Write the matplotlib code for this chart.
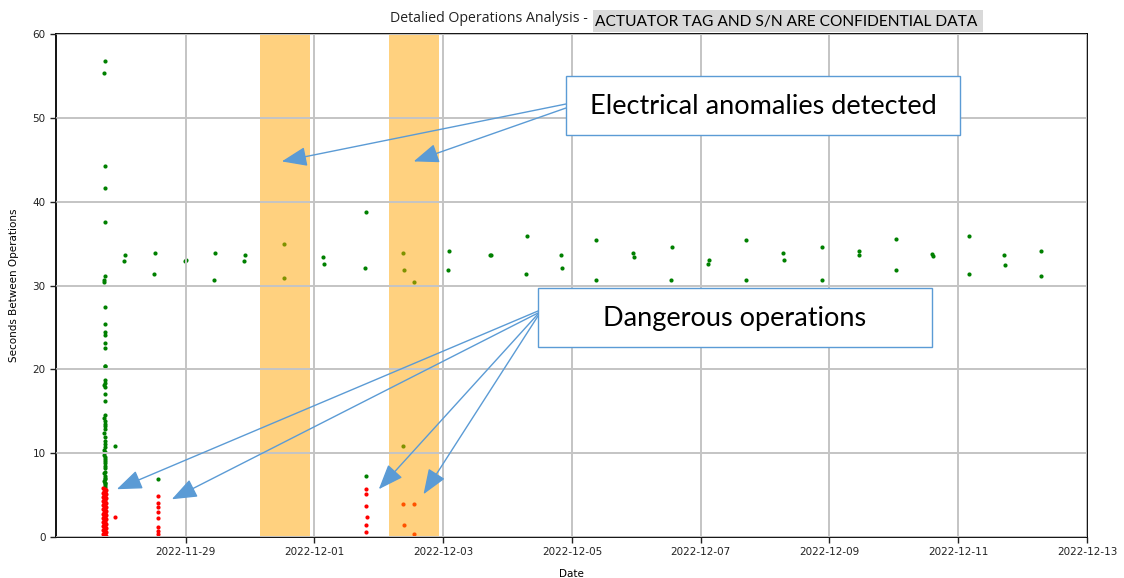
import matplotlib
matplotlib.use("Agg")
from matplotlib import pyplot as plt
from matplotlib.patches import Rectangle
import matplotlib.dates as mdates
import pandas as pd

# green = normal operations, red = dangerous (too short between operations)
green_times = [
    "2022-11-27 17:45", "2022-11-27 17:35", "2022-11-27 17:45", "2022-11-27 17:45",
    "2022-11-27 18:00", "2022-11-27 17:50", "2022-11-27 17:30", "2022-11-27 17:40",
    "2022-11-27 17:45", "2022-11-27 17:50", "2022-11-27 18:05", "2022-11-27 17:45",
    "2022-11-27 17:45", "2022-11-27 18:00", "2022-11-27 17:45", "2022-11-27 18:00",
    "2022-11-27 17:45", "2022-11-27 17:50", "2022-11-27 17:40", "2022-11-27 17:55",
    "2022-11-27 17:50", "2022-11-27 17:45", "2022-11-27 17:55", "2022-11-27 17:45",
    "2022-11-27 17:55", "2022-11-27 17:45", "2022-11-27 17:40", "2022-11-27 17:50",
    "2022-11-27 17:55", "2022-11-27 17:45", "2022-11-27 17:50", "2022-11-27 17:45",
    "2022-11-27 17:55", "2022-11-27 17:45", "2022-11-27 17:50", "2022-11-27 17:45",
    "2022-11-27 17:55", "2022-11-27 17:45", "2022-11-27 18:00", "2022-11-27 17:50",
    "2022-11-27 17:40", "2022-11-27 17:55", "2022-11-27 17:45", "2022-11-27 17:50",
    "2022-11-27 17:40", "2022-11-27 17:55", "2022-11-27 17:35", "2022-11-27 18:00",
    "2022-11-27 17:40", "2022-11-27 17:55", "2022-11-27 17:35", "2022-11-27 18:00",
    "2022-11-27 21:30",
    "2022-11-28 01:25", "2022-11-28 01:10",
    "2022-11-28 12:35", "2022-11-28 12:20", "2022-11-28 13:35",
    "2022-11-28 23:35", "2022-11-29 00:00",
    "2022-11-29 11:00", "2022-11-29 10:45",
    "2022-11-29 22:05", "2022-11-29 21:50",
    "2022-11-30 12:50", "2022-11-30 12:35",
    "2022-12-01 03:15", "2022-12-01 03:30",
    "2022-12-01 19:15", "2022-12-01 19:00", "2022-12-01 19:20",
    "2022-12-02 09:05", "2022-12-02 09:30", "2022-12-02 13:00", "2022-12-02 09:05",
    "2022-12-03 02:10", "2022-12-03 01:55",
    "2022-12-03 17:35", "2022-12-03 17:45",
    "2022-12-04 07:15", "2022-12-04 07:00",
    "2022-12-04 20:00", "2022-12-04 20:10",
    "2022-12-05 09:05", "2022-12-05 08:55",
    "2022-12-05 22:50", "2022-12-05 23:05",
    "2022-12-06 13:10", "2022-12-06 12:55",
    "2022-12-07 02:55", "2022-12-07 02:40",
    "2022-12-07 17:00", "2022-12-07 16:45",
    "2022-12-08 06:45", "2022-12-08 06:55",
    "2022-12-08 21:20", "2022-12-08 21:10",
    "2022-12-09 11:05", "2022-12-09 10:55",
    "2022-12-10 00:50", "2022-12-10 00:40",
    "2022-12-10 14:20", "2022-12-10 14:30",
    "2022-12-11 04:00", "2022-12-11 03:50",
    "2022-12-11 17:05", "2022-12-11 17:15",
    "2022-12-12 06:50", "2022-12-12 06:40",
]
green_secs = [
    56.8, 55.3, 44.3, 41.6,
    37.6, 31.1, 30.6, 30.4,
    27.4, 25.4, 24.4, 24.1,
    23.1, 22.6, 20.4, 20.4,
    18.7, 18.4, 18.1, 17.9,
    17.0, 16.2, 14.6, 13.8,
    13.5, 13.25, 12.4, 11.9,
    11.1, 10.7, 10.1, 9.5,
    9.1, 8.5, 7.8, 7.3,
    6.9, 6.5, 6.2, 12.9,
    9.8, 8.8, 8.2, 7.0,
    6.7, 6.0, 14.2, 11.5,
    10.4, 9.3, 7.6, 6.4,
    10.9,
    33.6, 32.9,
    33.9, 31.4, 6.9,
    32.9, 33.1,
    33.9, 30.6,
    33.6, 32.9,
    34.9, 30.9,
    33.4, 32.6,
    38.8, 32.1, 7.3,
    33.9, 31.9, 30.4, 10.9,
    34.1, 31.9,
    33.6, 33.6,
    35.9, 31.4,
    33.6, 32.1,
    35.4, 30.6,
    33.9, 33.4,
    34.6, 30.6,
    33.1, 32.6,
    35.4, 30.6,
    33.9, 33.1,
    34.6, 30.6,
    34.1, 33.6,
    35.6, 31.9,
    33.75, 33.5,
    35.9, 31.4,
    33.6, 32.4,
    34.1, 31.1,
]

red_times = [
    "2022-11-27 17:20", "2022-11-27 17:50", "2022-11-27 18:20", "2022-11-27 17:35",
    "2022-11-27 18:05", "2022-11-27 17:20", "2022-11-27 17:50", "2022-11-27 18:20",
    "2022-11-27 17:35", "2022-11-27 18:05", "2022-11-27 17:20", "2022-11-27 17:50",
    "2022-11-27 18:20", "2022-11-27 17:35", "2022-11-27 18:05", "2022-11-27 17:20",
    "2022-11-27 17:50", "2022-11-27 18:20", "2022-11-27 17:35", "2022-11-27 18:05",
    "2022-11-27 17:20", "2022-11-27 17:50", "2022-11-27 18:20", "2022-11-27 17:35",
    "2022-11-27 18:05", "2022-11-27 17:20", "2022-11-27 17:50", "2022-11-27 18:20",
    "2022-11-27 17:35", "2022-11-27 18:05", "2022-11-27 17:20", "2022-11-27 17:50",
    "2022-11-27 18:20", "2022-11-27 17:35", "2022-11-27 18:05", "2022-11-27 17:20",
    "2022-11-27 17:50", "2022-11-27 18:20", "2022-11-27 17:35", "2022-11-27 18:05",
    "2022-11-27 17:20", "2022-11-27 17:50", "2022-11-27 18:20", "2022-11-27 17:35",
    "2022-11-27 18:05", "2022-11-27 17:20", "2022-11-27 17:50", "2022-11-27 18:20",
    "2022-11-27 17:35", "2022-11-27 18:05", "2022-11-27 17:20", "2022-11-27 17:50",
    "2022-11-27 18:20", "2022-11-27 17:35", "2022-11-27 18:05", "2022-11-27 17:20",
    "2022-11-27 17:50", "2022-11-27 18:20", "2022-11-27 17:35", "2022-11-27 18:05",
    "2022-11-27 21:30",
    "2022-11-28 13:35", "2022-11-28 13:35", "2022-11-28 13:35", "2022-11-28 13:35",
    "2022-11-28 13:35", "2022-11-28 13:35", "2022-11-28 13:35", "2022-11-28 13:35",
    "2022-12-01 19:10", "2022-12-01 19:10", "2022-12-01 19:10", "2022-12-01 19:25",
    "2022-12-01 19:10", "2022-12-01 19:15",
    "2022-12-02 09:05", "2022-12-02 09:30", "2022-12-02 13:05", "2022-12-02 13:05",
]
red_secs = [
    5.8, 5.7, 5.6, 5.5, 5.4, 5.3, 5.2, 5.1, 5.0, 4.9,
    4.8, 4.7, 4.6, 4.5, 4.4, 4.3, 4.2, 4.1, 4.0, 3.9,
    3.8, 3.7, 3.6, 3.5, 3.4, 3.3, 3.2, 3.1, 3.0, 2.9,
    2.8, 2.7, 2.6, 2.5, 2.4, 2.3, 2.2, 2.1, 2.0, 1.9,
    1.8, 1.7, 1.6, 1.5, 1.4, 1.3, 1.2, 1.1, 1.0, 0.9,
    0.8, 0.7, 0.6, 0.5, 0.4, 0.3, 0.2, 0.1, 0.05, 0.0,
    2.4,
    4.9, 4.1, 3.6, 3.0,
    2.3, 1.2, 0.7, 0.3,
    5.7, 5.1, 3.65, 2.4,
    1.4, 0.6,
    3.9, 1.4, 3.9, 0.4,
]

# periods with electrical anomalies
anomaly_start = ["2022-11-30 03:40", "2022-12-02 03:40"]
anomaly_end = ["2022-11-30 22:30", "2022-12-02 22:30"]

tick_dates = ["2022-11-29", "2022-12-01", "2022-12-03", "2022-12-05",
              "2022-12-07", "2022-12-09", "2022-12-11", "2022-12-13"]
y_ticks = [0, 10, 20, 30, 40, 50, 60]

# arrow targets (data coords)
elec_targets = [("2022-11-30 11:50", 44.8), ("2022-12-02 13:00", 44.8)]
danger_targets = [("2022-11-27 22:20", 5.7), ("2022-11-28 18:50", 4.5),
                  ("2022-12-02 00:00", 5.7), ("2022-12-02 16:40", 5.1)]

W, H = 1124, 578
BLUE = "#5b9bd5"


def frac(x, y):
    # pixel from top-left -> figure fraction
    return x / W, 1 - y / H


fig = plt.figure(figsize=(W / 100, H / 100), dpi=100)
ax = fig.add_axes([56 / W, 1 - 537 / H, (1087 - 56) / W, (537 - 34) / H])

ax.scatter(pd.to_datetime(green_times), green_secs, s=9, color="green", zorder=1, linewidths=0)
ax.scatter(pd.to_datetime(red_times), red_secs, s=9, color="red", zorder=1, linewidths=0)

for s, e in zip(anomaly_start, anomaly_end):
    ax.axvspan(pd.Timestamp(s), pd.Timestamp(e), color="orange", alpha=0.5, lw=0, zorder=2)

ax.set_xlim(pd.Timestamp("2022-11-26 23:40"), pd.Timestamp("2022-12-13 00:00"))
ax.set_ylim(0, 60)
ax.set_xticks(pd.to_datetime(tick_dates))
ax.xaxis.set_major_formatter(mdates.DateFormatter("%Y-%m-%d"))
ax.set_yticks(y_ticks)
ax.tick_params(labelsize=7.5, length=4, width=1, colors="#222222")
ax.grid(True, color="#c4c4c4", linewidth=1.4)
ax.set_axisbelow(False)
for sp in ax.spines.values():
    sp.set_linewidth(1.3)

ax.set_xlabel("Date", fontsize=7.5, labelpad=8)
ax.set_ylabel("Seconds Between Operations", fontsize=7.5, labelpad=10)

# title + grey highlighted part
fig.text(*frac(591, 19), "Detalied Operations Analysis - ", ha="right", va="center",
         fontsize=10.2, family="Open Sans", color="#222222")
x0, y0 = frac(593, 32)
fig.patches.append(Rectangle((x0, y0), (983 - 593) / W, 22 / H, transform=fig.transFigure,
                             facecolor="#d9d9d9", edgecolor="none"))
fig.text(*frac(595, 22), "ACTUATOR TAG AND S/N ARE CONFIDENTIAL DATA", ha="left", va="center",
         fontsize=11.2, family="Lato", color="black")

# callout boxes
for (bx0, by0, bx1, by1, label) in [(566, 76, 960, 135, "Electrical anomalies detected"),
                                    (538, 288, 932, 347, "Dangerous operations")]:
    fx, fy = frac(bx0, by1)
    fig.patches.append(Rectangle((fx, fy), (bx1 - bx0) / W, (by1 - by0) / H,
                                 transform=fig.transFigure, facecolor="white",
                                 edgecolor=BLUE, linewidth=1, zorder=5))
    fig.text(*frac((bx0 + bx1) / 2, (by0 + by1) / 2 + 1), label, ha="center", va="center",
             fontsize=19.5, family="Lato", color="black", zorder=6)

arrow = dict(arrowstyle="-|>,head_length=1.3,head_width=0.5", color=BLUE, lw=1,
             shrinkA=0, shrinkB=0, mutation_scale=12)
for (t, v), (px, py) in zip(elec_targets, [(566, 104), (566, 108)]):
    ax.annotate("", xy=(pd.Timestamp(t), v), xycoords="data",
                xytext=(px, H - py), textcoords="figure pixels", arrowprops=arrow,
                annotation_clip=False)
for (t, v), (px, py) in zip(danger_targets, [(538, 311), (538, 313), (538, 314), (538, 316)]):
    ax.annotate("", xy=(pd.Timestamp(t), v), xycoords="data",
                xytext=(px, H - py), textcoords="figure pixels", arrowprops=arrow,
                annotation_clip=False)

fig.savefig("out.png", dpi=100)
